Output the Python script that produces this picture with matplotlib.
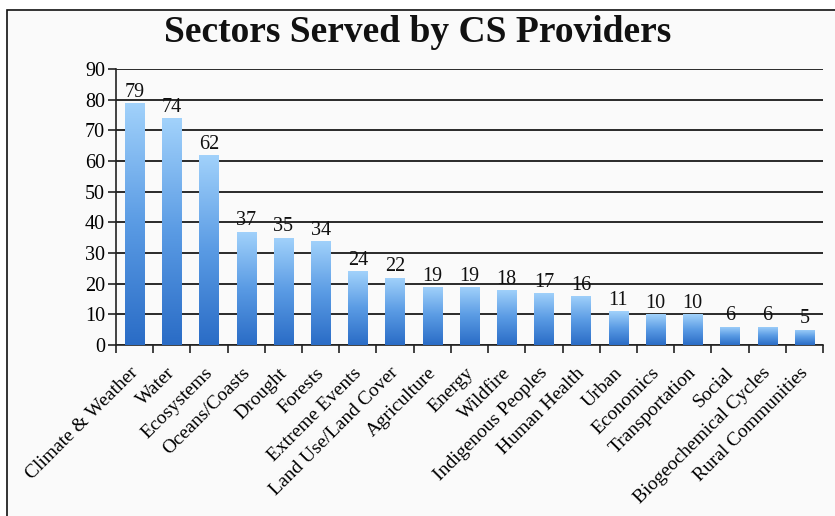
import numpy as np
import matplotlib.pyplot as plt
import matplotlib.transforms as mtransforms
from matplotlib.patches import Rectangle
from matplotlib.colors import LinearSegmentedColormap

sectors = ['Climate & Weather', 'Water', 'Ecosystems', 'Oceans/Coasts', 'Drought',
           'Forests', 'Extreme Events', 'Land Use/Land Cover', 'Agriculture', 'Energy',
           'Wildfire', 'Indigenous Peoples', 'Human Health', 'Urban', 'Economics',
           'Transportation', 'Social', 'Biogeochemical Cycles', 'Rural Communities']
counts = [79, 74, 62, 37, 35, 34, 24, 22, 19, 19, 18, 17, 16, 11, 10, 10, 6, 6, 5]
yticks = [0, 10, 20, 30, 40, 50, 60, 70, 80, 90]

plt.rcParams['font.family'] = ['Liberation Serif', 'DejaVu Serif']

fig = plt.figure(figsize=(8.35, 5.16), dpi=100)
fig.patch.set_facecolor('white')

# chart frame, kept behind the axes
frame = Rectangle((7 / 835, -0.05), 1.0, 1 - 10 / 516 + 0.05, transform=fig.transFigure,
                  facecolor='#fafafa', edgecolor='#111111', linewidth=1.2, zorder=-10)
fig.patches.append(frame)

ax = fig.add_axes([116 / 835, 1 - 345 / 516, (823 - 116) / 835, (345 - 69) / 516])
ax.set_facecolor('none')

x = np.arange(len(sectors))
bars = ax.bar(x, counts, width=0.52, color='none', zorder=3)

# vertical gradient inside each bar
cmap = LinearSegmentedColormap.from_list('bluegrad', ['#2a6cc6', '#5a9be4', '#a2d2fb'])
grad = np.linspace(0, 1, 256).reshape(-1, 1)
for b in bars:
    x0, y0 = b.get_x(), b.get_y()
    w, h = b.get_width(), b.get_height()
    im = ax.imshow(grad, cmap=cmap, origin='lower', aspect='auto',
                   extent=(x0, x0 + w, y0, y0 + h), zorder=3)
    im.set_clip_path(b)

for xi, v in zip(x, counts):
    ax.text(xi, v + 0.4, str(v), ha='center', va='bottom', fontsize=14.5,
            color='#111111', zorder=4)

ax.set_xlim(-0.5, len(sectors) - 0.5)
ax.set_ylim(0, 90)
ax.set_yticks(yticks)
ax.set_yticklabels([str(t) for t in yticks], fontsize=14.5)
ax.yaxis.grid(True, color='#2a2a2a', linewidth=1.4, zorder=1)
ax.set_axisbelow(True)
ax.tick_params(axis='y', length=6, width=1.2, color='#222222', pad=2)

ax.set_xticks(x)
ax.set_xticklabels(sectors, rotation=45, ha='right', rotation_mode='anchor',
                   fontsize=14)
ax.set_xticks(np.arange(-0.5, len(sectors)), minor=True)
ax.tick_params(axis='x', which='major', length=0, pad=14)
ax.tick_params(axis='x', which='minor', length=6, width=1.2, color='#222222')

# nudge slanted labels a little to the left
shift = mtransforms.ScaledTranslation(-0.05, 0, fig.dpi_scale_trans)
for lab in ax.get_xticklabels():
    lab.set_transform(lab.get_transform() + shift)

for s in ['top', 'right']:
    ax.spines[s].set_visible(False)
for s in ['left', 'bottom']:
    ax.spines[s].set_color('#222222')
    ax.spines[s].set_linewidth(1.2)

fig.text(0.5, 1 - 32 / 516, 'Sectors Served by CS Providers', ha='center', va='center',
         fontsize=27, fontweight='bold', color='#111111')

fig.savefig('out.png', dpi=100, facecolor=fig.get_facecolor())
